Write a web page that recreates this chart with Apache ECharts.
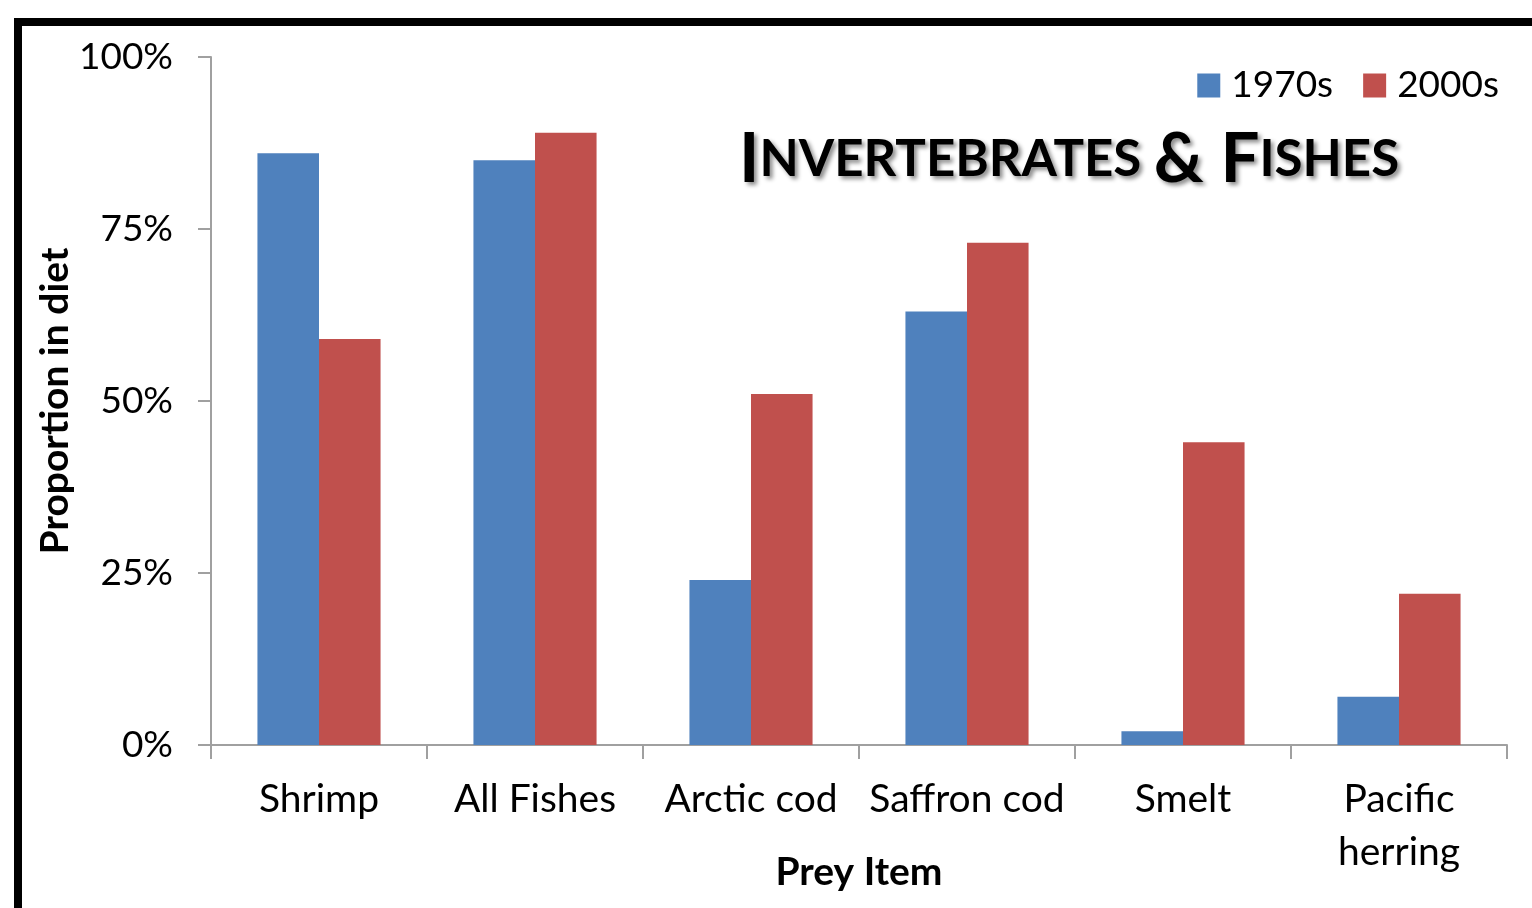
<!DOCTYPE html>
<html><head><meta charset="utf-8">
<script src="https://cdn.jsdelivr.net/npm/echarts@6/dist/echarts.min.js"></script>
<style>html,body{margin:0;padding:0;background:#fff}#c{width:1532px;height:908px}</style>
</head><body><div id="c"></div>
<script>
const categories = ['Shrimp', 'All Fishes', 'Arctic cod', 'Saffron cod', 'Smelt', 'Pacific\nherring'];
const s1970 = [86, 85, 24, 63, 2, 7];
const s2000 = [59, 89, 51, 73, 44, 22];
const yTicks = [0, 25, 50, 75, 100];
const FONT = 'Lato, "Open Sans", sans-serif';
const shadow = {textShadowColor: 'rgba(0,0,0,0.45)', textShadowBlur: 4, textShadowOffsetX: 3, textShadowOffsetY: 3};
const chart = echarts.init(document.getElementById('c'));
chart.setOption({
  backgroundColor: '#fff',
  animation: false,
  graphic: [
    {type: 'rect', shape: {x: 14, y: 18, width: 1530, height: 8}, style: {fill: '#000'}, z: 10},
    {type: 'rect', shape: {x: 14, y: 18, width: 8, height: 900}, style: {fill: '#000'}, z: 10},
    {type: 'text', left: 739, top: 125, z: 10,
      style: {
        rich: {
          b: Object.assign({fontSize: 69, fontWeight: 'bold', fontFamily: FONT, fill: '#000'}, shadow),
          s: Object.assign({fontSize: 51, fontWeight: 'bold', fontFamily: FONT, fill: '#000'}, shadow)
        },
        text: '{b|I}{s|NVERTEBRATES }{b|& F}{s|ISHES}'
      }}
  ],
  legend: {
    data: ['1970s', '2000s'], right: 28, top: 62, itemWidth: 23, itemHeight: 24, itemGap: 30,
    icon: 'rect', textStyle: {fontSize: 37, fontFamily: FONT, color: '#000', padding: [0, 0, 0, 6]}
  },
  grid: {left: 211, right: 25, top: 57, bottom: 163, outerBoundsMode: 'none', containLabel: false},
  xAxis: {
    type: 'category', data: categories,
    name: 'Prey Item', nameLocation: 'middle', nameGap: 108, nameMoveOverlap: false,
    nameTextStyle: {fontSize: 39, fontWeight: 'bold', fontFamily: FONT, color: '#000'},
    axisLine: {lineStyle: {color: '#a0a0a0', width: 2}},
    axisTick: {show: true, interval: 0, length: 14, lineStyle: {color: '#a0a0a0', width: 2}},
    axisLabel: {interval: 0, fontSize: 39, fontFamily: FONT, color: '#000', margin: 28, lineHeight: 53}
  },
  yAxis: {
    type: 'value', min: 0, max: 100, interval: 25,
    name: 'Proportion in diet', nameLocation: 'middle', nameGap: 136, nameMoveOverlap: false,
    nameTextStyle: {fontSize: 39, fontWeight: 'bold', fontFamily: FONT, color: '#000'},
    axisLine: {show: true, lineStyle: {color: '#a0a0a0', width: 2}},
    axisTick: {show: true, length: 13, lineStyle: {color: '#a0a0a0', width: 2}},
    splitLine: {show: false},
    axisLabel: {fontSize: 37, fontFamily: FONT, color: '#000', margin: 38,
      formatter: v => yTicks.includes(v) ? v + '%' : ''}
  },
  series: [
    {name: '1970s', type: 'bar', data: s1970, barGap: '0%', barCategoryGap: '43%', itemStyle: {color: '#4F81BD'}},
    {name: '2000s', type: 'bar', data: s2000, barGap: '0%', barCategoryGap: '43%', itemStyle: {color: '#C0504D'}}
  ]
});
</script></body></html>
